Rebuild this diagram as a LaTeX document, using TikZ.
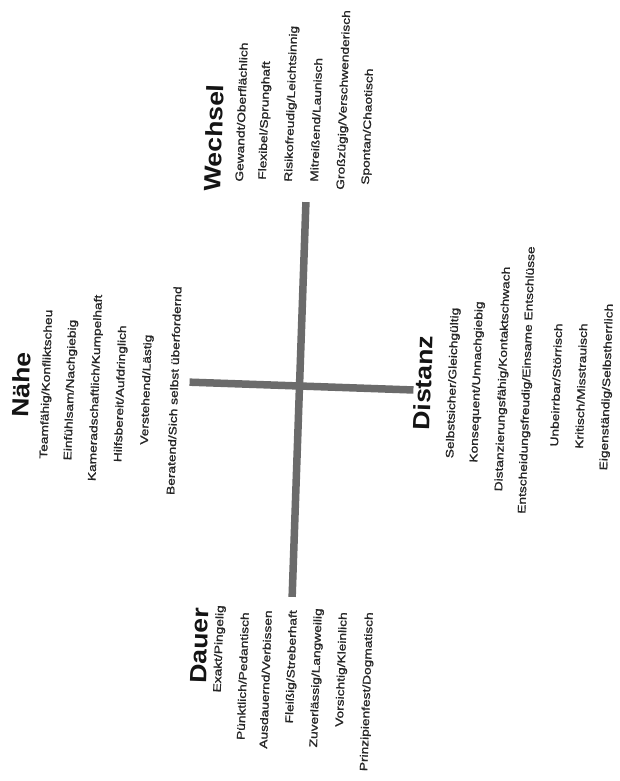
\documentclass[tikz,border=0pt]{standalone}
\usepackage{fontspec}
\setmainfont{Liberation Sans}
\newfontfamily\itmfont[FakeStretch=1.25, FakeBold=1.2]{Liberation Sans}
\newfontfamily\ttlfont[FakeStretch=1.13]{Liberation Sans}
\begin{document}
\begin{tikzpicture}[x=1pt,y=-1pt,
  ttl/.style={font=\ttlfont\bfseries\fontsize{23.5pt}{28pt}\selectfont, text=black!92, inner sep=0pt, rotate=90},
  itm/.style={font=\itmfont\fontsize{11pt}{14pt}\selectfont, text=black!85, inner sep=0pt, rotate=90},
  axis/.style={draw=black!58, line width=7.5pt}]
\useasboundingbox[fill=white] (0,0) rectangle (620,781);
\begin{scope}[shift={(299.5,386)}, rotate=-2, transform shape]
  % cross
  \coordinate (vt) at (0,-184);
  \coordinate (vb) at (0,211);
  \coordinate (hl) at (-110,0);
  \coordinate (hr) at (114,0);
  \draw[axis] (vt) -- (vb);
  \draw[axis] (hl) -- (hr);
  % Naehe
  \node[ttl] (nahe) at (-278,8.6) {Nähe};
  \node[itm] (n1) at (-252.6,7)  {Teamfähig/Konfliktscheu};
  \node[itm] (n2) at (-228.4,12) {Einfühlsam/Nachgiebig};
  \node[itm] (n3) at (-203.4,9)  {Kameradschaftlich/Kumpelhaft};
  \node[itm] (n4) at (-178.2,14) {Hilfsbereit/Aufdringlich};
  \node[itm] (n5) at (-152.4,9)  {Verstehend/Lästig};
  \node[itm] (n6) at (-125.3,9)  {Beratend/Sich selbst überfordernd};
  % Distanz
  \node[ttl] (dist) at (123.4,-7.3) {Distanz};
  \node[itm] (d1) at (153.4,-8.4)  {Selbstsicher/Gleichgültig};
  \node[itm] (d2) at (177.4,-10.2) {Konsequent/Unnachgiebig};
  \node[itm] (d3) at (203.3,-14.1) {Distanzierungsfähig/Kontaktschwach};
  \node[itm] (d4) at (227.3,-13.9) {Entscheidungsfreudig/Einsame Entschlüsse};
  \node[itm] (d5) at (256.5,-10)   {Unbeirrbar/Störrisch};
  \node[itm] (d6) at (281.5,-9.8)  {Kritisch/Misstrauisch};
  \node[itm] (d7) at (307.5,-9.7)  {Eigenständig/Selbstherrlich};
  % Wechsel
  \node[ttl, anchor=west] (wech) at (-94.3,-191) {Wechsel};
  \node[itm, anchor=west] (w1) at (-67.6,-202)   {Gewandt/Oberflächlich};
  \node[itm, anchor=west] (w2) at (-43.7,-204.7) {Flexibel/Sprunghaft};
  \node[itm, anchor=west] (w3) at (-17.6,-203.6) {Risikofreudig/Leichtsinnig};
  \node[itm, anchor=west] (w4) at (7.4,-204.5)   {Mitreißend/Launisch};
  \node[itm, anchor=west] (w5) at (34.7,-197.4)  {Großzügig/Verschwenderisch};
  \node[itm, anchor=west] (w6) at (59.5,-203.3)  {Spontan/Chaotisch};
  % Dauer
  \node[ttl, anchor=east] (dau) at (-90.8,225.4) {Dauer};
  \node[itm, anchor=east] (a1) at (-70.9,221.7) {Exakt/Pingelig};
  \node[itm, anchor=east] (a2) at (-46.6,227.9) {Pünktlich/Pedantisch};
  \node[itm, anchor=east] (a3) at (-23.7,225.1) {Ausdauernd/Verbissen};
  \node[itm, anchor=east] (a4) at (2.3,224.2)   {Fleißig/Streberhaft};
  \node[itm, anchor=east] (a5) at (27.2,221.3)  {Zuverlässig/Langweilig};
  \node[itm, anchor=east] (a6) at (52.4,224.4)  {Vorsichtig/Kleinlich};
  \node[itm, anchor=east] (a7) at (78.4,223.5)  {Prinzipienfest/Dogmatisch};
\end{scope}
\end{tikzpicture}
\end{document}
